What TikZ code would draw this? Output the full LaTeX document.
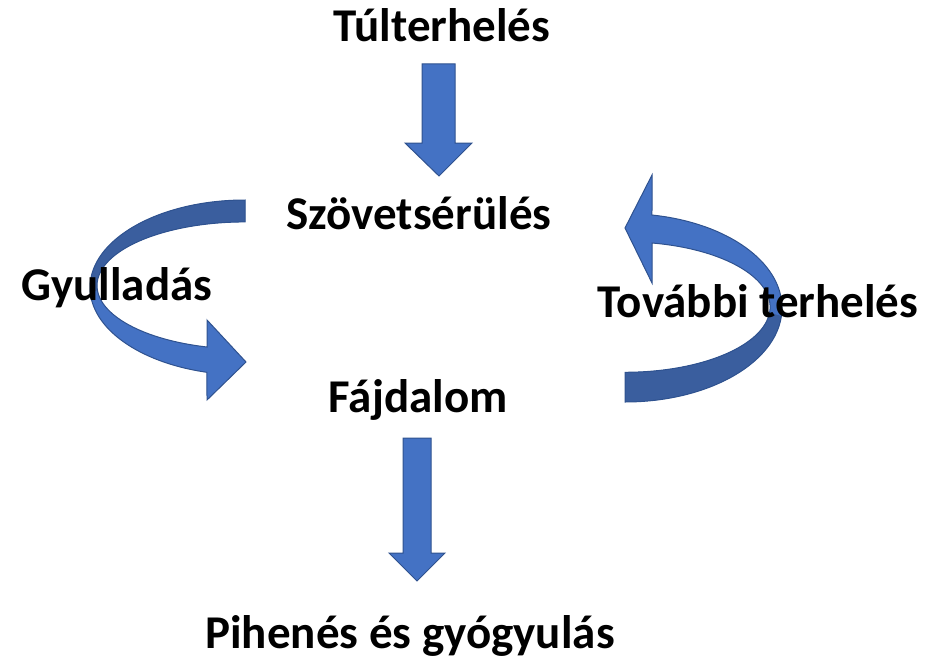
\documentclass[tikz,border=0pt]{standalone}
\usepackage{fontspec}
\setmainfont{Carlito}
\definecolor{arrlight}{HTML}{4472C4}
\definecolor{arrdark}{HTML}{3A5E9E}
\definecolor{arredge}{HTML}{2F528F}
\tikzset{
  lbl/.style={font=\bfseries\fontsize{47}{52}\selectfont, text=black, anchor=base, inner sep=0pt},
  arrbody/.style={fill=arrlight, draw=arredge, line width=1pt, line join=miter},
  arrback/.style={fill=arrdark},
}
\begin{document}
\begin{tikzpicture}[x=1pt,y=-1pt]
\useasboundingbox (0,0) rectangle (931,658);
% straight arrows
\draw[arrbody] (422,64) -- (455,64) -- (455,143) -- (472,143) -- (439,176) -- (405,143) -- (422,143) -- cycle;
\draw[arrbody] (403,438) -- (431,438) -- (431,553) -- (445,553) -- (417,581) -- (389,553) -- (403,553) -- cycle;
% left curved arrow
\fill[arrlight] (245,200) arc[start angle=270, end angle=104.2, x radius=155, y radius=87.5]
  -- (207,400) -- (246,362) -- (207,320) -- (207,347)
  arc[start angle=104.9, end angle=270, x radius=148, y radius=63.6] -- cycle;
\fill[arrback] (245,200) arc[start angle=270, end angle=176, x radius=155, y radius=87.5]
  -- (97.4,290.0) arc[start angle=176, end angle=270, x radius=148, y radius=63.6] -- cycle;
\draw[arredge, line width=1pt] (245,200) arc[start angle=270, end angle=104.2, x radius=155, y radius=87.5]
  -- (207,400) -- (246,362) -- (207,320) -- (207,347)
  arc[start angle=104.9, end angle=270, x radius=148, y radius=63.6] -- cycle;
% right curved arrow
\fill[arrlight] (625,402) arc[start angle=90, end angle=-80.1, x radius=157, y radius=94.2]
  -- (652,175) -- (625,228) -- (652,283) -- (652,243)
  arc[start angle=-79.3, end angle=90, x radius=145, y radius=65.2] -- cycle;
\fill[arrback] (625,402) arc[start angle=90, end angle=5, x radius=157, y radius=94.2]
  -- (769.5,312.75) arc[start angle=5, end angle=90, x radius=145, y radius=65.2] -- cycle;
\draw[arredge, line width=1pt] (625,402) arc[start angle=90, end angle=-80.1, x radius=157, y radius=94.2]
  -- (652,175) -- (625,228) -- (652,283) -- (652,243)
  arc[start angle=-79.3, end angle=90, x radius=145, y radius=65.2] -- cycle;
% labels
\node[lbl] (tul) at (442,42) {Túlterhelés};
\node[lbl] (szo) at (419,229) {Szövetsérülés};
\node[lbl] (gyu) at (117,300) {Gyulladás};
\node[lbl] (tov) at (758,317) {További terhelés};
\node[lbl] (faj) at (418,412) {Fájdalom};
\node[lbl] (pih) at (410,648) {Pihenés és gyógyulás};
\end{tikzpicture}
\end{document}
